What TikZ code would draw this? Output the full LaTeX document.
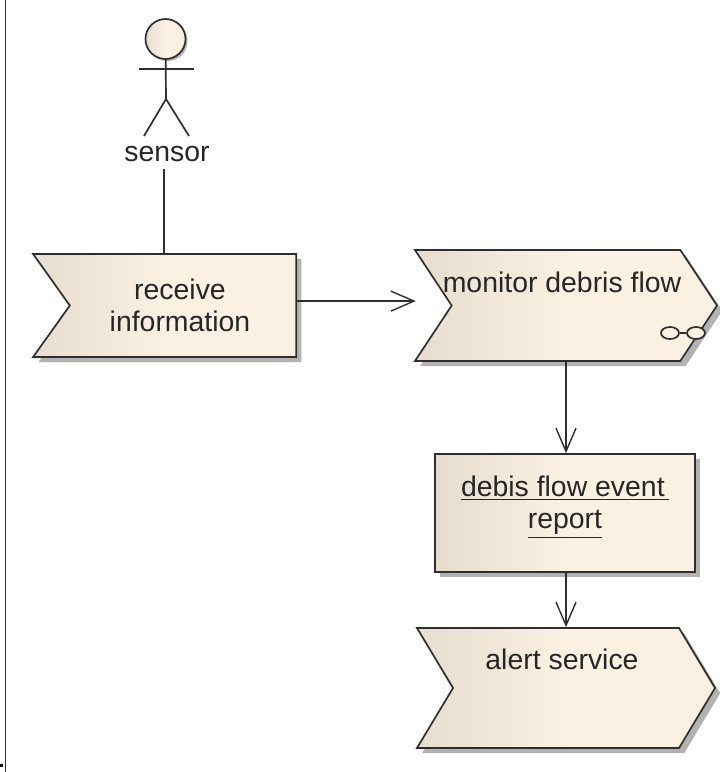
\documentclass[tikz,border=0pt]{standalone}
\usepackage{fontspec}
\setmainfont{Liberation Sans}
\usepackage{tikz}
\usetikzlibrary{arrows.meta,calc,shadows,shapes.geometric,shapes.symbols}
\definecolor{tanleft}{HTML}{E6DDCE}
\definecolor{tanright}{HTML}{FBF1E3}
\definecolor{inkline}{HTML}{2E2E2E}
\newcommand{\steptext}{\fontsize{20.2}{22.8}\selectfont}

\begin{document}
\begin{tikzpicture}[x=0.025cm,y=-0.025cm,>={Straight Barb[length=5.8mm,width=5mm,line width=1pt]},thick,
	tanfill/.style={draw=inkline,line width=1.2pt,left color=tanleft,right color=tanright,middle color=tanright,
		drop shadow={shadow xshift=1.3mm,shadow yshift=-1.3mm,fill=black!30,opacity=1}},
	chevron/.style={tanfill,signal,inner sep=0pt,signal from=west,signal to=east},
	label text/.style={font=\steptext,align=center,text=black!85,inner sep=0pt},
	link/.style={draw=inkline,line width=1.2pt}]
					\useasboundingbox (0,0) rectangle (720,772);
					
					\coordinate (bordertop) at (5.5,0);
					\coordinate (borderend) at (5.5,772);
					\node[fill=black,inner sep=0pt,minimum size=0.8mm] (dot) at (1.5,765.5) {};
					\draw[link] (bordertop) -- (borderend);
					
					\node[circle,draw=inkline,line width=1.2pt,left color=tanleft,right color=tanright,middle color=tanright,minimum size=1cm,inner sep=0pt,
						drop shadow={shadow xshift=0.5mm,shadow yshift=-0.5mm,fill=black!30,opacity=1}] (head) at (165.5,39) {};
					\coordinate (armleft) at (139,69);
					\coordinate (armright) at (194,69);
					\coordinate (hip) at (166,99);
					\coordinate (legleft) at (144,136);
					\coordinate (legright) at (189,136);
					\draw[link] (head) -- (hip);
					\draw[link] (armleft) -- (armright);
					\draw[link] (legleft) -- (hip) -- (legright);
					\node[label text] (sensor) at (167,154) {sensor};
					
					\node[chevron,signal to=nowhere,signal pointer angle=109,minimum width=6.575cm,minimum height=2.575cm] (receive) at (183,305.5) {};
					\node[chevron,signal pointer angle=113,minimum width=7.55cm,minimum height=2.775cm] (monitor) at (566,305.5) {};
					\node[rectangle,tanfill,minimum width=6.5cm,minimum height=2.95cm] (report) at (565,513) {};
					\node[chevron,signal pointer angle=118,minimum width=7.45cm,minimum height=3cm] (alert) at (566,688) {};
					
					\node[label text] (receivetext) at (180,305) {receive\\information};
					\node[label text] (monitortext) at (562,282) {monitor debris flow};
					\node[label text] (reporttext) at (565,507) {\underline{debis flow event\hspace{0.15em}}\\\underline{report}};
					\node[label text] (alerttext) at (562,659) {alert service};
					
					\node[ellipse,link,fill=tanright,minimum width=4.5mm,minimum height=3mm,inner sep=0pt] (ringa) at (670,333) {};
					\node[ellipse,link,fill=tanright,minimum width=4.5mm,minimum height=3mm,inner sep=0pt] (ringb) at (696,333) {};
					\draw[link] (ringa) -- (ringb);
					
					\coordinate (tether) at ($(receive.north west)!0.5!(receive.north east)$);
					\draw[link] (tether) -- ([yshift=-1.7mm]tether |- sensor.south);
					\draw[->,link] ([yshift=1.1mm]receive.east) -- ([yshift=1.1mm,xshift=0.6mm]receive.east -| monitor.north west);
					\draw[->,link] (monitor.south) -- (report.north -| monitor.south);
					\draw[->,link] (report.south -| alert.north) -- (alert.north);
					\end{tikzpicture}
\end{document}
